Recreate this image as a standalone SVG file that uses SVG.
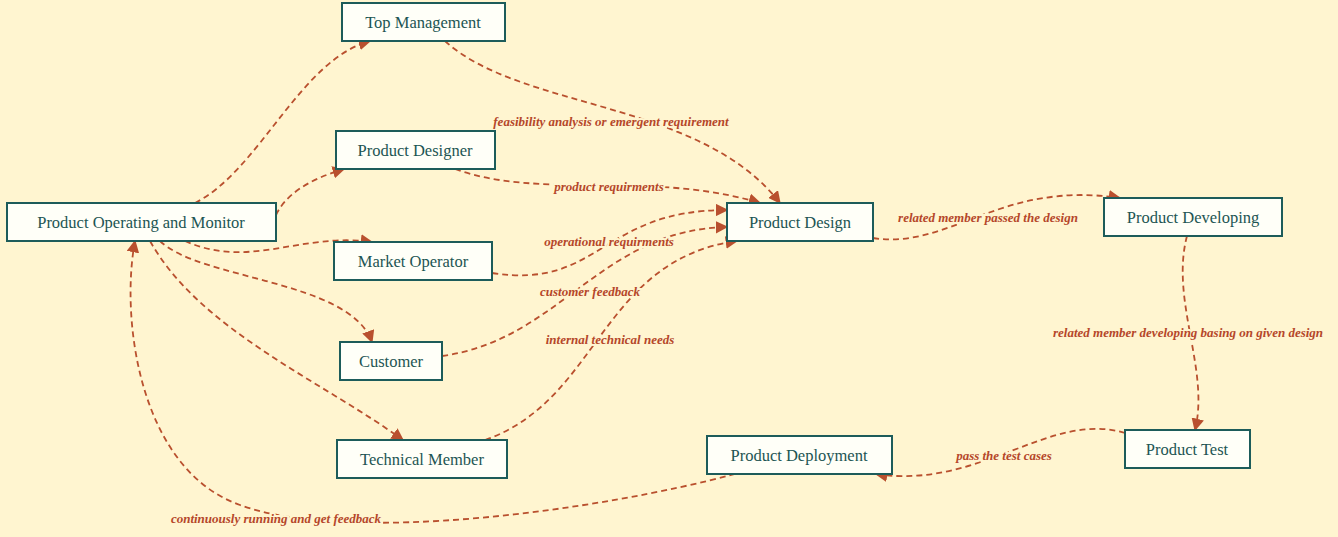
<svg xmlns="http://www.w3.org/2000/svg" width="1338" height="537" viewBox="0 0 1338 537">
<style>
.n rect{fill:#fffff8;stroke:#1d5c5a;stroke-width:2}
.n text{font-family:"Liberation Serif","DejaVu Serif",serif;font-size:16.5px;fill:#1d5553;text-anchor:middle;dominant-baseline:central}
.e path{fill:none;stroke:#b9502e;stroke-width:1.8;stroke-dasharray:6,4;marker-end:url(#a)}
.l{font-family:"Liberation Serif",serif;font-style:italic;font-weight:bold;font-size:13px;fill:#b5472a;text-anchor:middle;dominant-baseline:central;paint-order:stroke;stroke:#fff5d0;stroke-width:4}
</style>
<defs><marker id="a" viewBox="0 0 10 10" refX="9" refY="5" markerWidth="7" markerHeight="7" orient="auto"><path d="M0,0L10,5L0,10z" fill="#b9502e"/></marker></defs>
<rect width="1338" height="537" fill="#fff5d0"/>
<g class="e">
<path d="M195,203 C260,170 300,60 370,41"/>
<path d="M276,215 Q290,185 344,169"/>
<path d="M185,241 C250,270 300,232 372,242"/>
<path d="M160,241 C200,280 350,280 372,342"/>
<path d="M150,241 C200,330 320,380 403,440"/>
<path d="M445,41 C520,110 700,100 780,203"/>
<path d="M455,169 C540,200 650,170 760,203"/>
<path d="M492,273 C600,290 600,210 727,210"/>
<path d="M442,356 C560,340 600,230 727,227"/>
<path d="M485,440 C600,400 600,260 737,241"/>
<path d="M873,238 C950,250 1000,180 1120,198"/>
<path d="M1187,236 C1170,300 1210,370 1195,430"/>
<path d="M1125,433 C1050,410 980,490 876,474"/>
<path d="M735,474 C600,510 350,545 240,505 C140,470 120,320 135,241"/>
</g>
<g>
<text class="l" x="611" y="121">feasibility analysis or emergent requirement</text>
<text class="l" x="609" y="186">product requirments</text>
<text class="l" x="609" y="241">operational requirments</text>
<text class="l" x="590" y="291">customer feedback</text>
<text class="l" x="610" y="339">internal  technical needs</text>
<text class="l" x="988" y="217">related member passed the design</text>
<text class="l" x="1188" y="332">related member developing basing on given design</text>
<text class="l" x="1004" y="455">pass the test cases</text>
<text class="l" x="276" y="518">continuously running and get feedback</text>
</g>
<g class="n" id="tm"><rect x="342" y="3" width="163" height="38"/><text x="423" y="22">Top Management</text></g>
<g class="n" id="pdr"><rect x="336" y="131" width="159" height="38"/><text x="415" y="150">Product Designer</text></g>
<g class="n" id="pom"><rect x="7" y="203" width="269" height="38"/><text x="141" y="222">Product Operating and Monitor</text></g>
<g class="n" id="mo"><rect x="334" y="242" width="158" height="38"/><text x="413" y="261">Market Operator</text></g>
<g class="n" id="cu"><rect x="340" y="342" width="102" height="38"/><text x="391" y="361">Customer</text></g>
<g class="n" id="tmb"><rect x="337" y="440" width="170" height="38"/><text x="422" y="459">Technical Member</text></g>
<g class="n" id="pd"><rect x="727" y="203" width="146" height="38"/><text x="800" y="222">Product Design</text></g>
<g class="n" id="pdv"><rect x="1104" y="198" width="178" height="38"/><text x="1193" y="217">Product Developing</text></g>
<g class="n" id="pt"><rect x="1125" y="430" width="125" height="38"/><text x="1187" y="449">Product Test</text></g>
<g class="n" id="pdp"><rect x="707" y="436" width="185" height="38"/><text x="799" y="455">Product Deployment</text></g>
</svg>
